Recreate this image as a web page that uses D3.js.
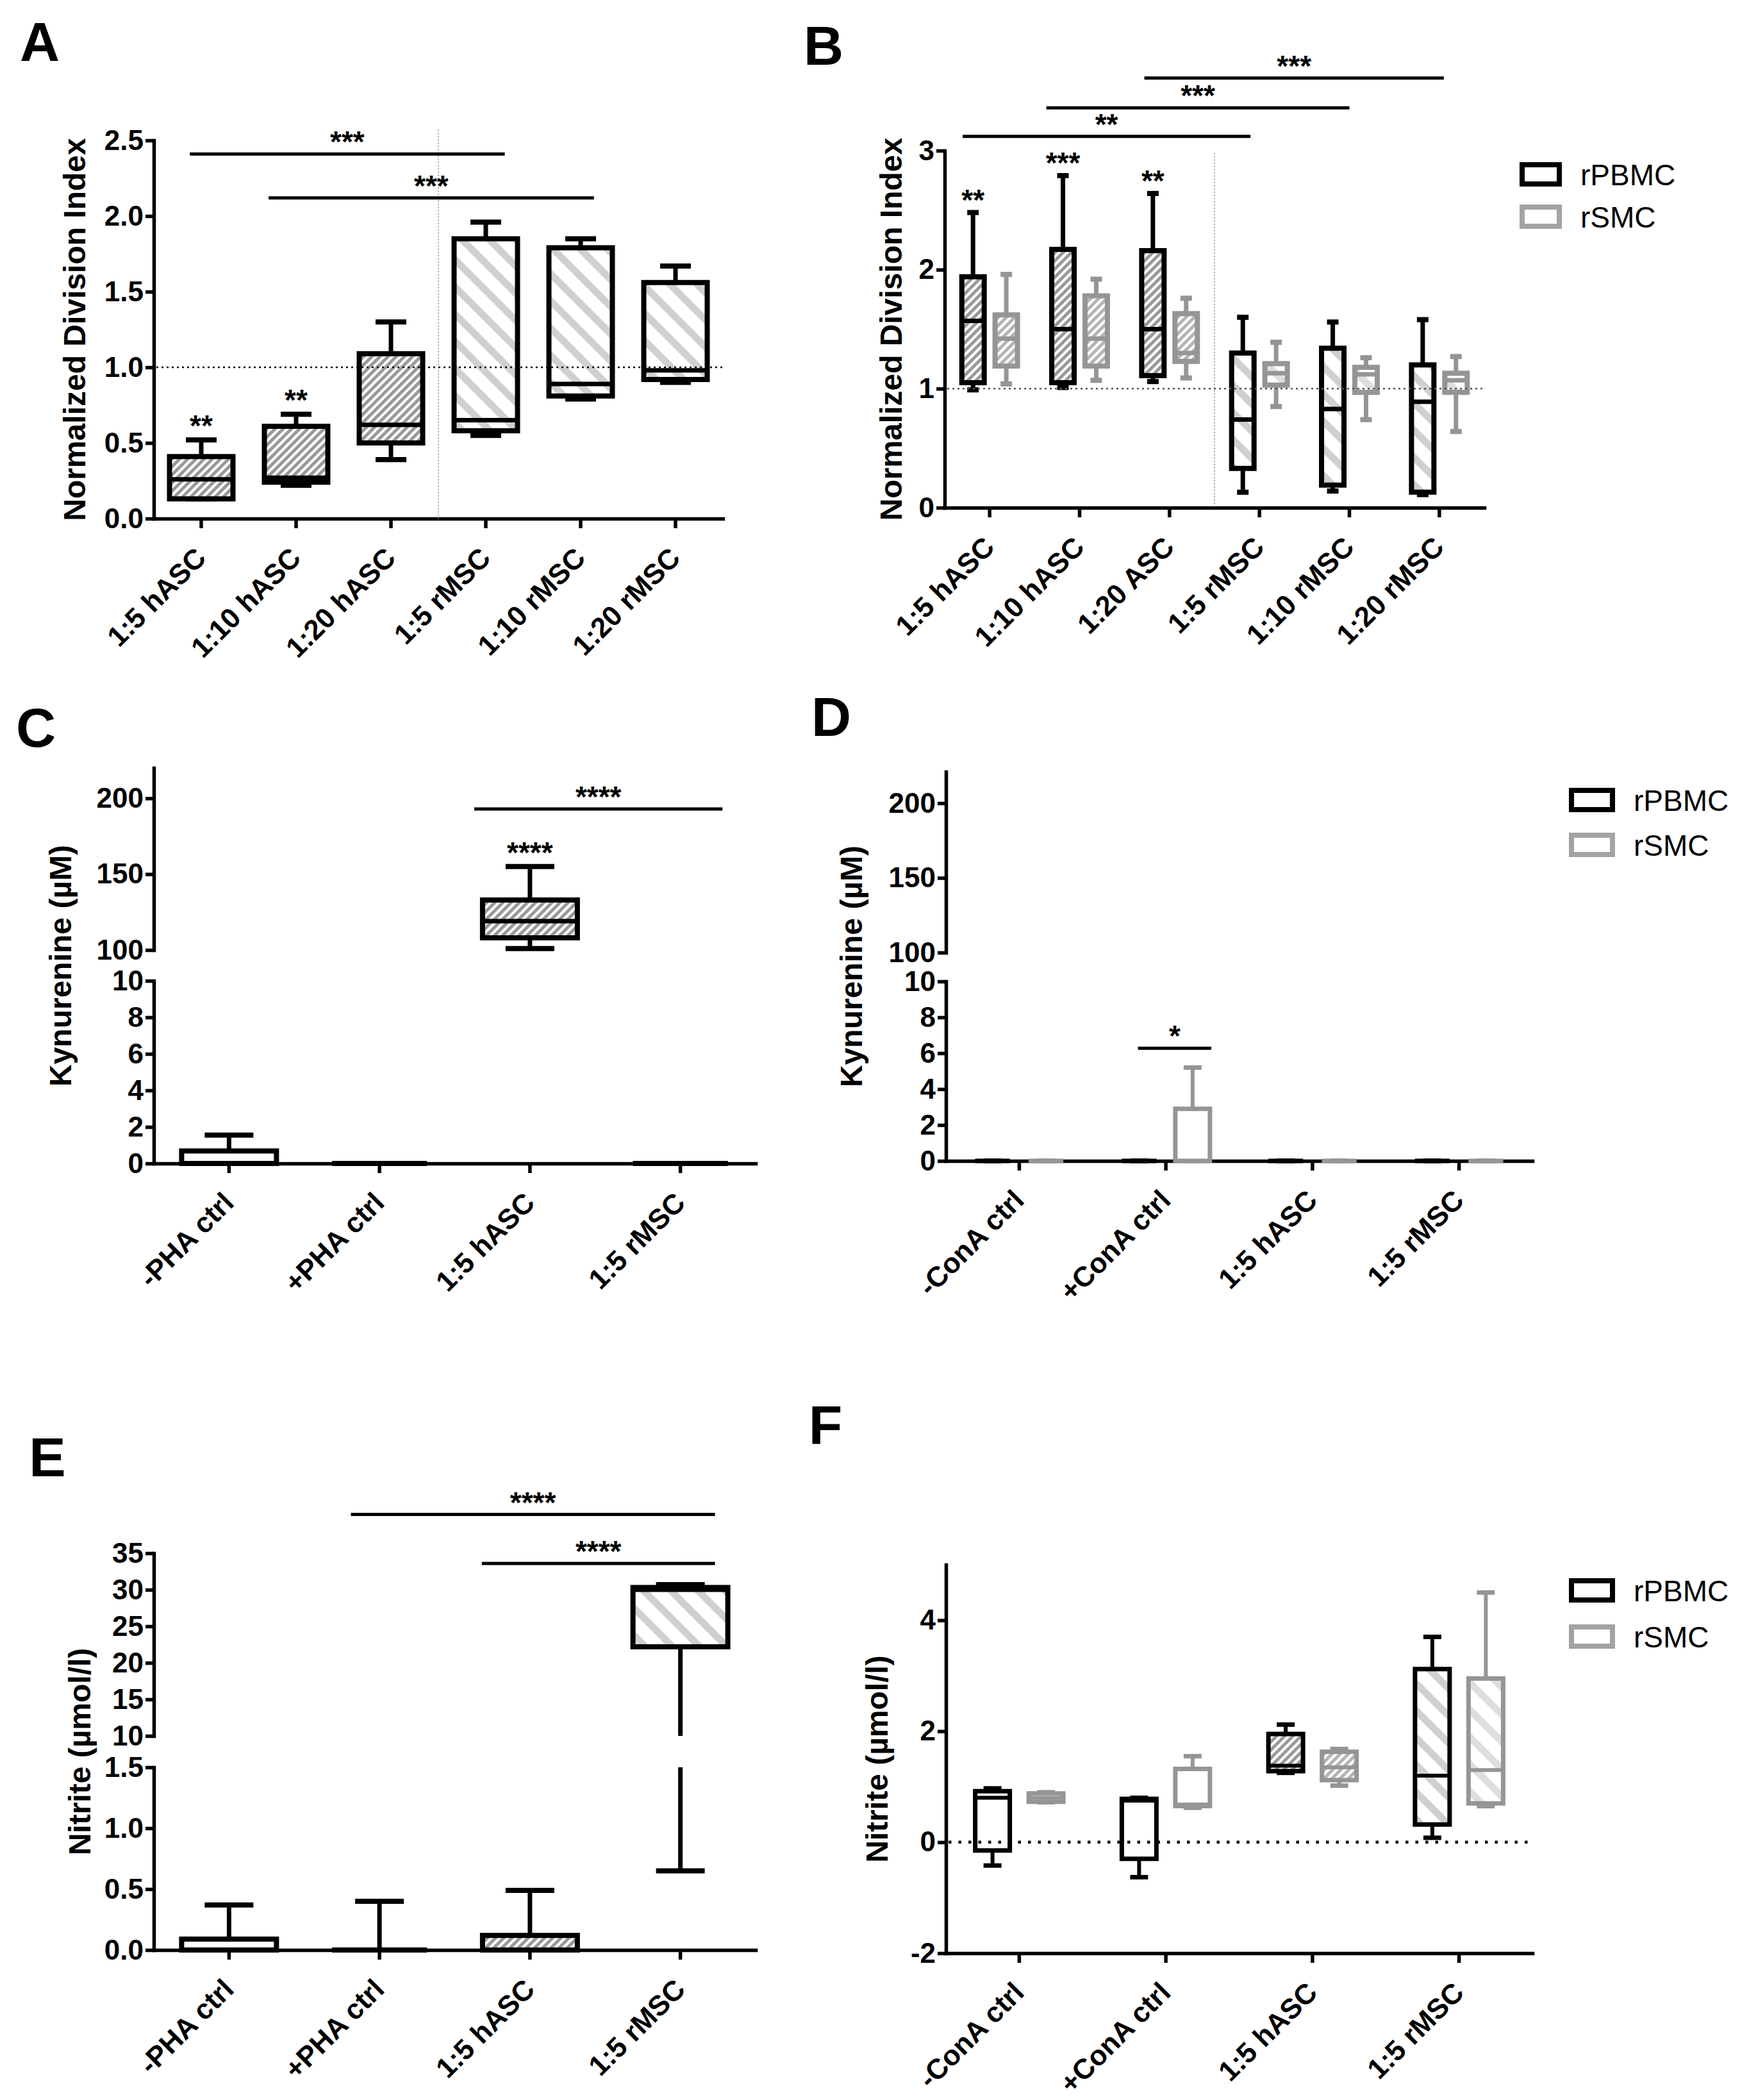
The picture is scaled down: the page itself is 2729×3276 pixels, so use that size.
<!DOCTYPE html>
<html>
<head>
<meta charset="utf-8">
<script src="https://cdn.jsdelivr.net/npm/d3@7"></script>
<style>
body { margin: 0; background: #fff; }
svg { font-family: "Liberation Sans", Arial, sans-serif; }
.tick text { font-family: "Liberation Sans", Arial, sans-serif; font-weight: bold; font-size: 44px; fill: #000; }
.title { font-weight: bold; font-size: 48px; }
.letter { font-weight: bold; font-size: 86px; }
.star { font-size: 46px; font-weight: bold; }
.legend { font-size: 46px; }
</style>
</head>
<body>
<svg width="2729" height="3276"></svg>
<script>
// ---- data: each box is [min, q1, median, q3, max] ----
var catsA = ["1:5 hASC", "1:10 hASC", "1:20 hASC", "1:5 rMSC", "1:10 rMSC", "1:20 rMSC"];
var boxA = [
  [0.13, 0.13, 0.26, 0.41, 0.52],
  [0.22, 0.24, 0.27, 0.61, 0.69],
  [0.39, 0.50, 0.62, 1.09, 1.30],
  [0.55, 0.58, 0.65, 1.85, 1.96],
  [0.79, 0.81, 0.89, 1.79, 1.85],
  [0.90, 0.92, 0.98, 1.56, 1.67]
];
var starsA = ["**", "**", "", "", "", ""];
var sigA = [
  {from: -0.12, to: 3.20, y: 2.41, label: "***"},
  {from: 0.71, to: 4.14, y: 2.12, label: "***"}
];

var catsB = ["1:5 hASC", "1:10 hASC", "1:20 ASC", "1:5 rMSC", "1:10 rMSC", "1:20 rMSC"];
var boxB_PBMC = [
  [0.99, 1.05, 1.57, 1.94, 2.48],
  [1.01, 1.05, 1.50, 2.17, 2.79],
  [1.06, 1.11, 1.50, 2.16, 2.64],
  [0.13, 0.33, 0.74, 1.30, 1.60],
  [0.14, 0.19, 0.83, 1.34, 1.56],
  [0.11, 0.13, 0.89, 1.20, 1.58]
];
var boxB_SMC = [
  [1.04, 1.19, 1.42, 1.62, 1.96],
  [1.07, 1.19, 1.42, 1.78, 1.92],
  [1.09, 1.23, 1.30, 1.63, 1.76],
  [0.85, 1.03, 1.13, 1.21, 1.39],
  [0.74, 0.97, 1.12, 1.18, 1.26],
  [0.64, 0.97, 1.07, 1.13, 1.27]
];
var starsB = ["**", "***", "**", "", "", ""];
var sigB = [
  {from: -0.30, to: 2.90, y: 3.12, label: "**"},
  {from: 0.63, to: 4.00, y: 3.36, label: "***"},
  {from: 1.72, to: 5.05, y: 3.61, label: "***"}
];

var catsC = ["-PHA ctrl", "+PHA ctrl", "1:5 hASC", "1:5 rMSC"];
var boxC = [
  [0, 0, 0, 0.68, 1.55],
  [0, 0, 0, 0, 0],
  [101, 108, 119, 133, 155],
  [0, 0, 0, 0, 0]
];
var starsC = ["", "", "****", ""];
var sigC = [{from: 1.63, to: 3.28, y: 193, label: "****"}];

var catsD = ["-ConA ctrl", "+ConA ctrl", "1:5 hASC", "1:5 rMSC"];
var boxD_PBMC = [
  [0, 0, 0, 0, 0],
  [0, 0, 0, 0, 0],
  [0, 0, 0, 0, 0],
  [0, 0, 0, 0, 0]
];
var boxD_SMC = [
  [0, 0, 0, 0, 0],
  [0, 0, 0, 2.9, 5.2],
  [0, 0, 0, 0, 0],
  [0, 0, 0, 0, 0]
];
var sigD = [{from: 0.81, to: 1.31, y: 6.28, label: "*"}];

var catsE = ["-PHA ctrl", "+PHA ctrl", "1:5 hASC", "1:5 rMSC"];
var boxE = [
  [0, 0, 0, 0.09, 0.37],
  [0, 0, 0, 0, 0.40],
  [0, 0, 0, 0.12, 0.49],
  [0.65, 22.2, 30.0, 30.3, 30.7]
];
var sigE = [
  {from: 0.81, to: 3.23, y: 40.3, label: "****"},
  {from: 1.68, to: 3.23, y: 33.6, label: "****"}
];

var catsF = ["-ConA ctrl", "+ConA ctrl", "1:5 hASC", "1:5 rMSC"];
var boxF_PBMC = [
  [-0.42, -0.15, 0.80, 0.92, 0.97],
  [-0.63, -0.30, 0.75, 0.78, 0.80],
  [1.25, 1.28, 1.38, 1.95, 2.12],
  [0.08, 0.32, 1.20, 3.12, 3.70]
];
var boxF_SMC = [
  [0.72, 0.73, 0.80, 0.88, 0.90],
  [0.62, 0.65, 0.68, 1.32, 1.55],
  [1.02, 1.12, 1.35, 1.63, 1.68],
  [0.65, 0.70, 1.30, 2.95, 4.50]
];

var seriesNames = ["rPBMC", "rSMC"];

// ---- drawing ----
var svg = d3.select("svg");
var BLACK = "#000", GREY = "#959595";

var defs = svg.append("defs");
function stripes(id, size, w, color, angle) {
  var p = defs.append("pattern")
    .attr("id", id)
    .attr("patternUnits", "userSpaceOnUse")
    .attr("width", size).attr("height", size)
    .attr("patternTransform", "rotate(" + angle + ")");
  p.append("rect").attr("width", size).attr("height", size).attr("fill", "#fff");
  p.append("rect").attr("width", w).attr("height", size).attr("fill", color);
}
stripes("denseDark", 9, 5, "#9a9a9a", 45);
stripes("denseLight", 9, 5, "#b4b4b4", 45);
stripes("wideDark", 30, 11, "#d0d0d0", -45);
stripes("wideLight", 30, 11, "#dedede", -45);

function fillFor(cat, grey) {
  if (/ASC/.test(cat)) return grey ? "url(#denseLight)" : "url(#denseDark)";
  if (/MSC/.test(cat)) return grey ? "url(#wideLight)" : "url(#wideDark)";
  return "#fff";
}

function fmtNum(f) {
  return function(d) { return f ? d3.format(f)(d) : String(d); };
}

function panel(cfg) {
  var g = svg.append("g");
  var x = d3.scaleBand().domain(cfg.cats).range([cfg.x0, cfg.x1]);
  var bw = x.bandwidth();
  var xIdx = d3.scaleLinear().domain([0, cfg.cats.length - 1])
    .range([x(cfg.cats[0]) + bw / 2, x(cfg.cats[cfg.cats.length - 1]) + bw / 2]);
  var sub = d3.scaleBand().domain(seriesNames).range([-bw * cfg.pair / 2, bw * cfg.pair / 2]);

  var segs = cfg.segs.map(function(s) {
    return {dom: s.dom, ticks: s.ticks, fmt: s.fmt,
            scale: d3.scaleLinear().domain(s.dom).range(s.rng)};
  });
  function segOf(v) {
    for (var i = 0; i < segs.length; i++) {
      if (v >= segs[i].dom[0] && v <= segs[i].dom[1]) return segs[i];
    }
    return null;
  }
  function yv(v) {
    var s = segOf(v);
    if (!s) s = v > segs[segs.length - 1].dom[1] ? segs[segs.length - 1] : segs[0];
    return s.scale(v);
  }
  function clipDraw(a, b, fn) {
    if (a === b) { var s = segOf(a); if (s) fn(s.scale(a), s.scale(a)); return; }
    segs.forEach(function(s) {
      var lo = Math.max(a, s.dom[0]), hi = Math.min(b, s.dom[1]);
      if (lo < hi) fn(s.scale(lo), s.scale(hi));
    });
  }

  // y axis segments
  segs.forEach(function(s) {
    g.append("g")
      .attr("class", "axis")
      .attr("transform", "translate(" + cfg.x0 + ",0)")
      .call(d3.axisLeft(s.scale).tickValues(s.ticks).tickFormat(fmtNum(s.fmt))
        .tickSize(13).tickPadding(3).tickSizeOuter(0));
  });

  // x axis
  var xa = g.append("g")
    .attr("class", "axis")
    .attr("transform", "translate(0," + yv(cfg.base) + ")")
    .call(d3.axisBottom(x).tickSize(15).tickSizeOuter(0));
  xa.selectAll("text")
    .attr("x", 0).attr("y", 0).attr("dy", null)
    .attr("text-anchor", "end")
    .attr("transform", "translate(10,64) rotate(-45)");

  g.selectAll(".axis path, .axis line")
    .attr("stroke", BLACK).attr("stroke-width", 5.5)
    .attr("stroke-linecap", "square");
  g.selectAll(".axis .tick line").attr("stroke-linecap", "butt");

  // vertical separator
  if (cfg.sep) {
    g.append("line")
      .attr("x1", x(cfg.cats[3])).attr("x2", x(cfg.cats[3]))
      .attr("y1", yv(cfg.sep)).attr("y2", yv(cfg.base))
      .attr("stroke", "#8a8a8a").attr("stroke-width", 1.6)
      .attr("stroke-dasharray", "2,3");
  }

  // boxes
  cfg.series.forEach(function(ser, si) {
    var col = ser.grey ? GREY : BLACK;
    ser.data.forEach(function(d, i) {
      var cat = cfg.cats[i];
      var cx = x(cat) + bw / 2 + (cfg.series.length > 1 ? sub(seriesNames[si]) + sub.bandwidth() / 2 : 0);
      var l = cx - cfg.boxW / 2, r = cx + cfg.boxW / 2;
      var bg = g.append("g");
      // whiskers
      clipDraw(d[3], d[4], function(y1, y2) {
        bg.append("line").attr("x1", cx).attr("x2", cx).attr("y1", y1).attr("y2", y2)
          .attr("stroke", col).attr("stroke-width", cfg.sw - 1);
      });
      clipDraw(d[0], d[1], function(y1, y2) {
        bg.append("line").attr("x1", cx).attr("x2", cx).attr("y1", y1).attr("y2", y2)
          .attr("stroke", col).attr("stroke-width", cfg.sw - 1);
      });
      [d[0], d[4]].forEach(function(v) {
        if (!segOf(v)) return;
        bg.append("line")
          .attr("x1", cx - cfg.capW / 2).attr("x2", cx + cfg.capW / 2)
          .attr("y1", yv(v)).attr("y2", yv(v))
          .attr("stroke", col).attr("stroke-width", cfg.sw);
      });
      // box
      clipDraw(d[1], d[3], function(y1, y2) {
        bg.append("path")
          .attr("d", "M" + l + "," + y1 + "H" + r + "V" + y2 + "H" + l + "Z")
          .attr("fill", fillFor(cat, ser.grey))
          .attr("stroke", col).attr("stroke-width", cfg.sw)
          .attr("stroke-linejoin", "miter");
      });
      if (segOf(d[2])) {
        bg.append("line").attr("x1", l).attr("x2", r)
          .attr("y1", yv(d[2])).attr("y2", yv(d[2]))
          .attr("stroke", col).attr("stroke-width", cfg.sw - 1);
      }
      if (ser.stars && ser.stars[i]) {
        g.append("text").attr("class", "star")
          .attr("x", cx).attr("y", yv(d[4]) - cfg.starGap)
          .attr("text-anchor", "middle").text(ser.stars[i]);
      }
    });
  });

  // reference line
  if (cfg.ref !== undefined) {
    g.append("line")
      .attr("x1", cfg.x0 + 4).attr("x2", cfg.x1)
      .attr("y1", yv(cfg.ref)).attr("y2", yv(cfg.ref))
      .attr("stroke", cfg.refStyle[0]).attr("stroke-width", cfg.refStyle[1])
      .attr("stroke-dasharray", cfg.refStyle[2]);
  }

  // significance bars
  (cfg.sig || []).forEach(function(s) {
    g.append("line")
      .attr("x1", xIdx(s.from)).attr("x2", xIdx(s.to))
      .attr("y1", yv(s.y)).attr("y2", yv(s.y))
      .attr("stroke", BLACK).attr("stroke-width", 5);
    g.append("text").attr("class", "star")
      .attr("x", (xIdx(s.from) + xIdx(s.to)) / 2).attr("y", yv(s.y) - 3)
      .attr("text-anchor", "middle").text(s.label);
  });

  // y title
  var yTop = d3.min(segs, function(s) { return s.scale.range()[1]; });
  var yBot = d3.max(segs, function(s) { return s.scale.range()[0]; });
  g.append("text").attr("class", "title")
    .attr("transform", "translate(" + cfg.titleX + "," + (yTop + yBot) / 2 + ") rotate(-90)")
    .attr("text-anchor", "middle").attr("dy", "0.35em")
    .text(cfg.title);

  // panel letter
  g.append("text").attr("class", "letter")
    .attr("x", cfg.letter[1]).attr("y", cfg.letter[2])
    .attr("text-anchor", "middle").attr("dy", "0.36em")
    .text(cfg.letter[0]);

  // legend
  if (cfg.legend) {
    seriesNames.forEach(function(n, i) {
      var lx = cfg.legend[0], ly = cfg.legend[1] + i * cfg.legend[2];
      g.append("rect").attr("x", lx).attr("y", ly).attr("width", cfg.legend[3]).attr("height", 30)
        .attr("fill", "#fff").attr("stroke", i ? "#a3a3a3" : BLACK).attr("stroke-width", 8);
      g.append("text").attr("class", "legend")
        .attr("x", lx + cfg.legend[3] + 33).attr("y", ly + 15).attr("dy", "0.36em")
        .text(n);
    });
  }
}

panel({
  cats: catsA, x0: 240, x1: 1128, base: 0, pair: 1,
  segs: [{dom: [0, 2.5], rng: [809, 219], ticks: [0, 0.5, 1, 1.5, 2, 2.5], fmt: ".1f"}],
  series: [{data: boxA, grey: false, stars: starsA}],
  boxW: 99, capW: 48, sw: 8, starGap: 6,
  sep: 2.57, ref: 1, refStyle: ["#000", 2.5, "3,5"],
  sig: sigA, title: "Normalized Division Index", titleX: 116,
  letter: ["A", 62, 64]
});

panel({
  cats: catsB, x0: 1474, x1: 2316, base: 0, pair: 0.74,
  segs: [{dom: [0, 3], rng: [792, 235], ticks: [0, 1, 2, 3]}],
  series: [{data: boxB_PBMC, grey: false, stars: starsB}, {data: boxB_SMC, grey: true}],
  boxW: 35, capW: 18, sw: 8, starGap: 4,
  sep: 2.98, ref: 1, refStyle: ["#555", 2.5, "3,5"],
  sig: sigB, title: "Normalized Division Index", titleX: 1390,
  letter: ["B", 1285, 70],
  legend: [2375, 257, 66, 58]
});

panel({
  cats: catsC, x0: 240, x1: 1179, base: 0, pair: 1,
  segs: [
    {dom: [0, 10], rng: [1815, 1530], ticks: [0, 2, 4, 6, 8, 10]},
    {dom: [100, 220], rng: [1482, 1198], ticks: [100, 150, 200]}
  ],
  series: [{data: boxC, grey: false, stars: starsC}],
  boxW: 148, capW: 76, sw: 8, starGap: 6,
  sig: sigC, title: "Kynurenine (µM)", titleX: 94,
  letter: ["C", 56, 1134]
});

panel({
  cats: catsD, x0: 1476, x1: 2391, base: 0, pair: 0.73,
  segs: [
    {dom: [0, 10], rng: [1811, 1531], ticks: [0, 2, 4, 6, 8, 10]},
    {dom: [100, 221], rng: [1486, 1204], ticks: [100, 150, 200]}
  ],
  series: [{data: boxD_PBMC, grey: false}, {data: boxD_SMC, grey: true}],
  boxW: 54, capW: 28, sw: 7, starGap: 6,
  sig: sigD, title: "Kynurenine (µM)", titleX: 1328,
  letter: ["D", 1297, 1117],
  legend: [2452, 1233, 70, 64]
});

panel({
  cats: catsE, x0: 240, x1: 1179, base: 0, pair: 1,
  segs: [
    {dom: [0, 1.5], rng: [3042, 2757], ticks: [0, 0.5, 1, 1.5], fmt: ".1f"},
    {dom: [10, 35], rng: [2708, 2423], ticks: [10, 15, 20, 25, 30, 35]}
  ],
  series: [{data: boxE, grey: false}],
  boxW: 148, capW: 76, sw: 8, starGap: 6,
  sig: sigE, title: "Nitrite (µmol/l)", titleX: 124,
  letter: ["E", 74, 2272]
});

panel({
  cats: catsF, x0: 1476, x1: 2391, base: -2, pair: 0.73,
  segs: [{dom: [-2, 5], rng: [3047, 2441], ticks: [-2, 0, 2, 4]}],
  series: [{data: boxF_PBMC, grey: false}, {data: boxF_SMC, grey: true}],
  boxW: 54, capW: 28, sw: 7, starGap: 6,
  ref: 0, refStyle: ["#000", 4.5, "4.5,11"],
  title: "Nitrite (µmol/l)", titleX: 1368,
  letter: ["F", 1288, 2222],
  legend: [2452, 2466, 72, 64]
});
</script>
</body>
</html>
